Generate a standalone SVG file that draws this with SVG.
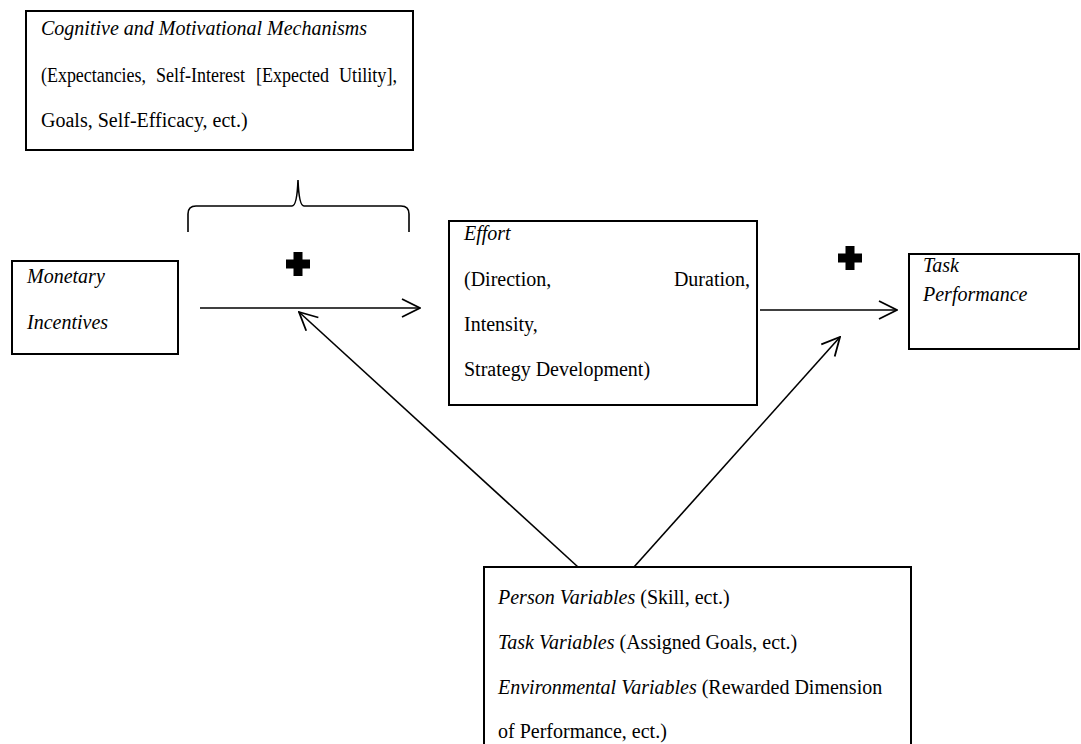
<svg xmlns="http://www.w3.org/2000/svg" width="1081" height="744" viewBox="0 0 1081 744">
  <style>
    .box { fill: #fff; stroke: #000; stroke-width: 2; }
    .t { font-family: "Liberation Serif", "Times New Roman", serif; font-size: 20px; fill: #000; }
    .i { font-style: italic; }
    .wire { fill: none; stroke: #000; stroke-width: 1.6; }
    .plus { fill: #000; }
  </style>
  <defs>
    <marker id="open" viewBox="0 0 20 20" refX="19" refY="10" markerWidth="20" markerHeight="20" markerUnits="userSpaceOnUse" orient="auto">
      <path d="M1,1 L19,10 L1,19" fill="none" stroke="#000" stroke-width="1.8"/>
    </marker>
    <!-- heavy plus sign, centred on the origin -->
    <path id="plus" d="M-4.5,-12 h9 v7.5 h7.5 v9 h-7.5 v7.5 h-9 v-7.5 h-7.5 v-9 h7.5 z"/>
  </defs>

  <rect width="1081" height="744" fill="#fff"/>

  <g id="mechanisms">
    <rect class="box" x="26" y="11" width="387" height="139"/>
    <text class="t i" x="41" y="35">Cognitive and Motivational Mechanisms</text>
    <!-- justified line: words spread across the box width -->
    <text class="t" x="41" y="82" textLength="105" lengthAdjust="spacingAndGlyphs">(Expectancies,</text>
    <text class="t" x="156" y="82" textLength="89" lengthAdjust="spacingAndGlyphs">Self-Interest</text>
    <text class="t" x="256" y="82" textLength="73" lengthAdjust="spacingAndGlyphs">[Expected</text>
    <text class="t" x="339" y="82" textLength="58" lengthAdjust="spacingAndGlyphs">Utility],</text>
    <text class="t" x="41" y="127">Goals, Self-Efficacy, ect.)</text>
  </g>

  <g id="brace">
    <path class="wire" d="M188,232 L188,214 Q188,206 196,206 L292,206 Q297,206 298,180 Q299,206 304,206 L401,206 Q409,206 409,214 L409,232"/>
  </g>

  <g id="incentives">
    <rect class="box" x="12" y="261" width="166" height="93"/>
    <text class="t i" x="27" y="283">Monetary</text>
    <text class="t i" x="27" y="329">Incentives</text>
  </g>

  <g id="effort">
    <rect class="box" x="449" y="221" width="308" height="184"/>
    <text class="t i" x="464" y="240">Effort</text>
    <text class="t" x="464" y="286">(Direction,</text>
    <text class="t" x="750" y="286" text-anchor="end">Duration,</text>
    <text class="t" x="464" y="331">Intensity,</text>
    <text class="t" x="464" y="376">Strategy Development)</text>
  </g>

  <g id="performance">
    <rect class="box" x="909" y="254" width="170" height="95"/>
    <text class="t i" x="923" y="272">Task</text>
    <text class="t i" x="923" y="301">Performance</text>
  </g>

  <g id="moderators">
    <rect class="box" x="484" y="567" width="427" height="180"/>
    <text class="t" x="498" y="604"><tspan class="i">Person Variables</tspan> (Skill, ect.)</text>
    <text class="t" x="498" y="649"><tspan class="i">Task Variables</tspan> (Assigned Goals, ect.)</text>
    <text class="t" x="498" y="694"><tspan class="i">Environmental Variables</tspan> (Rewarded Dimension</text>
    <text class="t" x="498" y="738">of Performance, ect.)</text>
  </g>

  <g id="connectors">
    <line class="wire" x1="200" y1="308" x2="420" y2="308" marker-end="url(#open)"/>
    <line class="wire" x1="760" y1="310" x2="897" y2="310" marker-end="url(#open)"/>
    <line class="wire" x1="578" y1="567" x2="299" y2="312" marker-end="url(#open)"/>
    <line class="wire" x1="634" y1="567" x2="840" y2="337" marker-end="url(#open)"/>
  </g>

  <g id="signs" class="plus">
    <use href="#plus" x="298" y="264"/>
    <use href="#plus" x="850" y="258"/>
  </g>
</svg>
